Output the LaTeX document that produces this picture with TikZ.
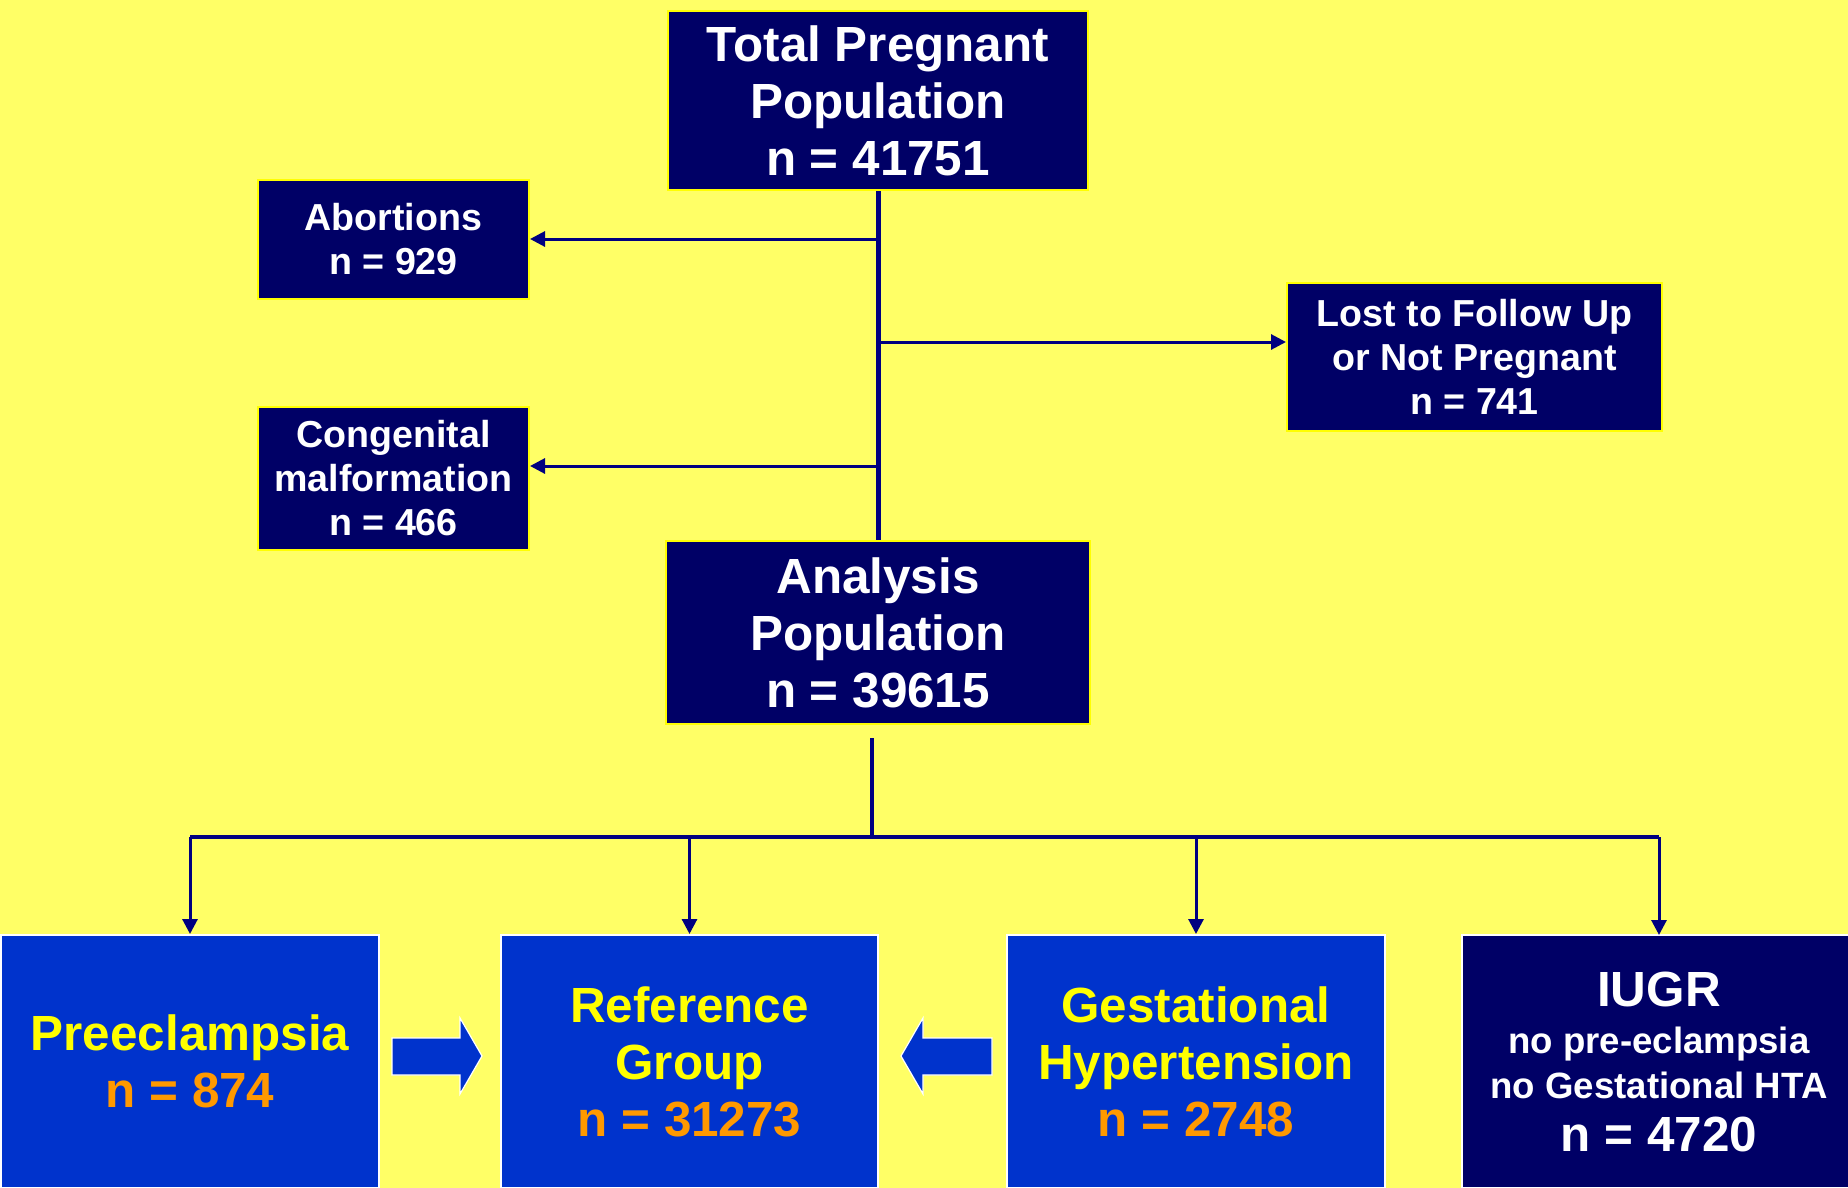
\documentclass[tikz,border=0pt]{standalone}
\usepackage{fontspec}
\setmainfont{Liberation Sans}
\usetikzlibrary{arrows.meta, positioning, calc}

\definecolor{bgyellow}{HTML}{FFFF66}
\definecolor{boxnavy}{HTML}{000066}
\definecolor{groupblue}{HTML}{0033CC}
\definecolor{textyellow}{HTML}{FFFF00}
\definecolor{numorange}{HTML}{FF9900}
\definecolor{linenavy}{HTML}{000080}

\begin{document}
\begin{tikzpicture}[x=0.5pt, y=-0.5pt,
  navybox/.style  = {rectangle, draw=textyellow, line width=1pt, fill=boxnavy,
                     text=white, inner sep=0pt, align=center},
  bluebox/.style  = {rectangle, draw=white, line width=1pt, fill=groupblue,
                     text=textyellow, inner sep=0pt, align=center},
  bigtext/.style  = {font=\bfseries\fontsize{24.7}{28.5}\selectfont},
  smalltext/.style= {font=\bfseries\fontsize{18.8}{22}\selectfont},
  link/.style     = {draw=linenavy, line width=2pt},
  arr/.style      = {link, line width=1.5pt, -{Triangle[length=7.5pt,width=7.5pt]}},
  fatarrow/.style = {fill=groupblue, draw=white, line width=0.6pt}
]
\useasboundingbox[fill=bgyellow] (0,0) rectangle (1848,1188);

% top part
\node[navybox, bigtext, minimum width=210pt, minimum height=89.5pt]
  (total) at (878,100.5) {Total Pregnant\\ Population\\ n = 41751};
\node[navybox, smalltext, minimum width=135.5pt, minimum height=59.5pt]
  (abort) at (393.5,239.5) {Abortions\\ n = 929};
\node[navybox, smalltext, minimum width=135.5pt, minimum height=71.5pt]
  (congen) at (393.5,478.5) {Congenital\\ malformation\\ n = 466};
\node[navybox, smalltext, minimum width=187.5pt, minimum height=74pt]
  (lost) at (1474.5,357) {Lost to Follow Up\\ or Not Pregnant\\ n = 741};
\node[navybox, bigtext, minimum width=212pt, minimum height=91.5pt]
  (analysis) at (878,632.5) {Analysis\\ Population\\ n = 39615};

% bottom groups
\node[bluebox, bigtext, minimum width=189pt, minimum height=126.5pt]
  (pre) at (190,1061.5) {Preeclampsia\\ \textcolor{numorange}{n = 874}};
\node[bluebox, bigtext, minimum width=188.5pt, minimum height=126.5pt]
  (ref) at (689.5,1061.5) {Reference\\ Group\\ \textcolor{numorange}{n = 31273}};
\node[bluebox, bigtext, minimum width=189pt, minimum height=126.5pt]
  (gest) at (1196,1061.5) {Gestational\\ Hypertension\\ \textcolor{numorange}{n = 2748}};
\node[navybox, draw=white, font=\bfseries\fontsize{18.3}{22.5}\selectfont,
  minimum width=197.5pt, minimum height=126.5pt]
  (iugr) at (1659,1061.5)
  {{\fontsize{24.7}{24}\selectfont IUGR}\\[1pt] no pre-eclampsia\\ no Gestational HTA\\[4pt]
   {\fontsize{24.7}{27}\selectfont n = 4720}};

% trunk and side branches
\coordinate (jabort) at (878,239);
\coordinate (jlost) at (878,342);
\coordinate (jcongen) at (878,466);
\draw[link, line width=2.5pt] (total.south) -- (analysis.north);
\draw[arr] (jabort) -- (abort.east |- jabort);
\draw[arr] (jcongen) -- (congen.east |- jcongen);
\draw[arr] (jlost) -- (lost.west |- jlost);

% split to groups
\coordinate (stub) at (872,738);
\coordinate (split) at (872,837);
\coordinate (iugrtop) at (1659,935);
\draw[link] (stub) -- (split);
\draw[link] (pre.north |- split) -- (iugrtop |- split);
\foreach \g in {pre, ref, gest}
  \draw[arr] (\g.north |- split) -- (\g.north);
\draw[arr] (iugrtop |- split) -- (iugrtop);

% fat arrows between groups
\draw[fatarrow] (392,1038) -- (460,1038) -- (460,1018) -- (482,1056)
  -- (460,1094) -- (460,1075) -- (392,1075) -- cycle;
\draw[fatarrow] (992,1038) -- (923,1038) -- (923,1018) -- (901,1056)
  -- (923,1094) -- (923,1075) -- (992,1075) -- cycle;
\end{tikzpicture}
\end{document}
